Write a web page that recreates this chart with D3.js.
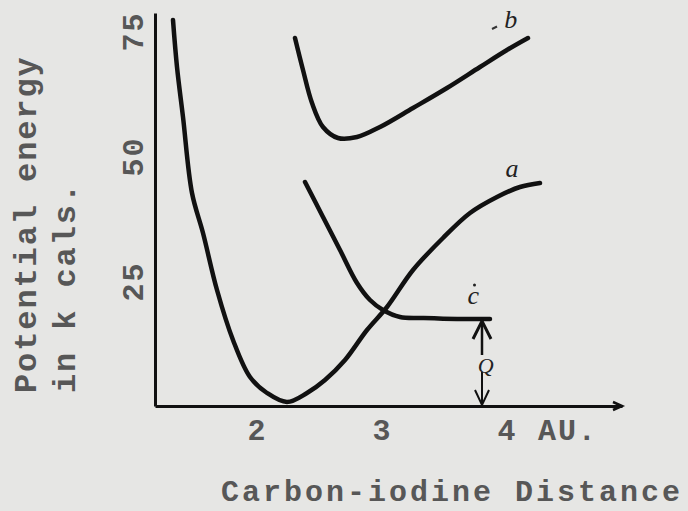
<!DOCTYPE html>
<html>
<head>
<meta charset="utf-8">
<script src="https://cdn.jsdelivr.net/npm/d3@7"></script>
<style>
  html, body { margin: 0; padding: 0; background: #e6e6e4; }
  svg { display: block; }
  .type { font-family: "Liberation Mono", "Courier New", monospace; font-weight: bold; fill: #575757; letter-spacing: 1.9px; }
  .hand { font-family: "Liberation Serif", serif; font-style: italic; fill: #222; }
</style>
</head>
<body>
<svg></svg>
<script>
const width = 688;
const height = 511;

// curves: [distance in AU, energy in k cals]
const curveA = [
    [1.328, 77.2], [1.36, 67.8], [1.408, 57.8], [1.48, 42.6], [1.568, 34.6],
    [1.68, 23.2], [1.808, 13.2], [1.944, 5.8], [2.08, 2.6], [2.24, 0.8],
    [2.40, 2.6], [2.544, 5.2], [2.704, 9.2], [2.88, 15.2], [3.04, 19.8],
    [3.248, 27.2], [3.488, 33.6], [3.704, 38.6], [3.92, 41.8], [4.104, 43.8],
    [4.264, 44.6]
];
const curveB = [
    [2.304, 73.6], [2.368, 67.2], [2.44, 60.6], [2.528, 55.8], [2.648, 53.6],
    [2.8, 53.8], [2.984, 55.8], [3.248, 59.6], [3.52, 63.6], [3.784, 67.8],
    [4.0, 71.2], [4.168, 73.6]
];
const curveC = [
    [2.384, 44.8], [2.528, 37.8], [2.664, 31.2], [2.8, 24.6], [2.904, 21.2],
    [3.008, 19.2], [3.144, 17.8], [3.328, 17.6], [3.6, 17.4], [3.864, 17.4]
];
const xTicks = [2, 3, 4];
const yTicks = [25, 50, 75];
const qAt = 3.8;        // position of the Q arrow
const qTop = 17.4;      // level of curve c

const x = d3.scaleLinear().domain([1.184, 4.92]).range([155, 622]);
const y = d3.scaleLinear().domain([0, 78.6]).range([406, 13]);

const svg = d3.select('svg')
    .attr('width', width)
    .attr('height', height);

// x axis
const xAxis = svg.append('g')
    .attr('transform', `translate(0, ${y(0)})`)
    .call(d3.axisBottom(x).tickValues(xTicks).tickSize(0).tickSizeOuter(0).tickFormat(d3.format('d')));
xAxis.select('.domain').attr('stroke', '#111').attr('stroke-width', 3);
xAxis.selectAll('.tick text')
    .attr('class', 'type')
    .attr('y', 34)
    .attr('dy', 0)
    .style('font-size', '30px');
svg.append('path')
    .attr('d', `M${x(4.92) - 9},${y(0) - 4} L${x(4.92)},${y(0)} L${x(4.92) - 9},${y(0) + 4}`)
    .attr('fill', 'none')
    .attr('stroke', '#111')
    .attr('stroke-width', 2.5);
svg.append('text')
    .attr('class', 'type')
    .attr('x', x(4) + 31)
    .attr('y', y(0) + 34)
    .style('font-size', '30px')
    .text('AU.');

// y axis
const yAxis = svg.append('g')
    .attr('transform', `translate(${x(1.184)}, 0)`)
    .call(d3.axisLeft(y).tickValues(yTicks).tickSize(0).tickSizeOuter(0));
yAxis.select('.domain').attr('stroke', '#111').attr('stroke-width', 3);
yAxis.selectAll('.tick text')
    .attr('class', 'type')
    .attr('transform', 'rotate(-90)')
    .attr('x', 0)
    .attr('y', -12)
    .attr('dy', 0)
    .attr('text-anchor', 'middle')
    .style('font-size', '30px');

// axis titles
svg.append('text')
    .attr('class', 'type')
    .attr('transform', 'translate(36, 393) rotate(-90)')
    .style('font-size', '32px')
    .text('Potential energy');
svg.append('text')
    .attr('class', 'type')
    .attr('transform', 'translate(75, 393) rotate(-90)')
    .style('font-size', '32px')
    .text('in k cals.');
svg.append('text')
    .attr('class', 'type')
    .attr('x', 221)
    .attr('y', 501)
    .style('font-size', '30px')
    .style('letter-spacing', '3px')
    .text('Carbon-iodine Distance');

// curves
const line = d3.line()
    .x(d => x(d[0]))
    .y(d => y(d[1]))
    .curve(d3.curveCatmullRom.alpha(0.5));

[curveA, curveB, curveC].forEach(c => {
    svg.append('path')
        .datum(c)
        .attr('d', line)
        .attr('fill', 'none')
        .attr('stroke', '#111')
        .attr('stroke-width', 4.5)
        .attr('stroke-linecap', 'round')
        .attr('stroke-linejoin', 'round');
});

// Q arrow
const qx = x(qAt);
svg.append('line')
    .attr('x1', qx).attr('x2', qx)
    .attr('y1', y(qTop)).attr('y2', y(qTop) + 36)
    .attr('stroke', '#111').attr('stroke-width', 2.5);
svg.append('line')
    .attr('x1', qx).attr('x2', qx)
    .attr('y1', y(0) - 34).attr('y2', y(0))
    .attr('stroke', '#111').attr('stroke-width', 2);
svg.append('path')
    .attr('d', `M${qx - 9},${y(qTop) + 20} L${qx},${y(qTop) + 2} L${qx + 9},${y(qTop) + 20}`)
    .attr('fill', 'none').attr('stroke', '#111').attr('stroke-width', 3);
svg.append('path')
    .attr('d', `M${qx - 7},${y(0) - 16} L${qx},${y(0) - 1} L${qx + 7},${y(0) - 16}`)
    .attr('fill', 'none').attr('stroke', '#111').attr('stroke-width', 2);

// handwritten labels
const labels = [
    { t: 'a', at: [4.04, 45.8], size: 26 },
    { t: 'b', at: [4.03, 75.6], size: 26 },
    { t: 'c', at: [3.73, 20.4], size: 26 },
    { t: 'Q', at: [3.83, 6.6], size: 22 }
];
svg.selectAll('.hand')
    .data(labels)
    .enter()
    .append('text')
        .attr('class', 'hand')
        .attr('x', d => x(d.at[0]))
        .attr('y', d => y(d.at[1]))
        .attr('text-anchor', 'middle')
        .style('font-size', d => d.size + 'px')
        .text(d => d.t);
svg.append('line')
    .attr('x1', x(3.88)).attr('x2', x(3.92))
    .attr('y1', y(75.4)).attr('y2', y(75.9))
    .attr('stroke', '#333').attr('stroke-width', 2);
svg.append('circle')
    .attr('cx', x(3.74)).attr('cy', y(24.2)).attr('r', 1.5)
    .attr('fill', '#222');
</script>
</body>
</html>
